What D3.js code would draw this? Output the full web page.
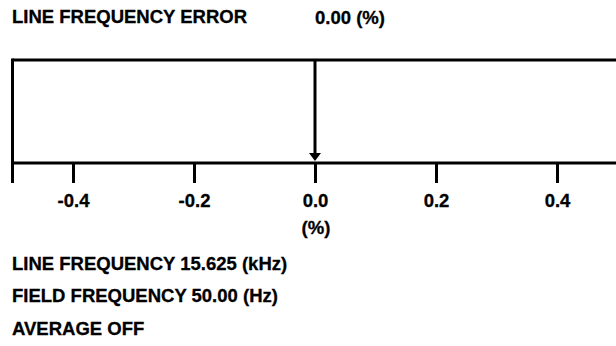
<!DOCTYPE html>
<html>
<head>
<meta charset="utf-8">
<script src="https://cdn.jsdelivr.net/npm/d3@7"></script>
<style>
  html, body { margin: 0; padding: 0; background: #fff; }
  svg { display: block; }
  text { font-family: "Liberation Sans", Arial, sans-serif; font-weight: bold; fill: #000; stroke: #000; stroke-width: 0.3px; }
</style>
</head>
<body>
<div id="chart"></div>
<script>
var width = 616, height = 346;

// data
var errorDomain = [-0.5, 0.5];
var tickValues = [-0.4, -0.2, 0.0, 0.2, 0.4];
var errorValue = [0.00];
var titleLabel = ["LINE FREQUENCY ERROR", "0.00 (%)"];
var unitLabel = ["(%)"];
var infoLines = ["LINE FREQUENCY 15.625 (kHz)", "FIELD FREQUENCY 50.00 (Hz)", "AVERAGE OFF"];

var fontSize = 18.5;
var boxTop = 60, boxBottom = 163, tickLen = 20;

var svg = d3.select("#chart").append("svg")
    .attr("width", width)
    .attr("height", height);

var x = d3.scaleLinear().domain(errorDomain).range([12.5, 617.5]);

// title row
svg.append("text")
    .attr("x", 12)
    .attr("y", 23)
    .style("font-size", fontSize + "px")
    .text(titleLabel[0]);

svg.append("text")
    .attr("x", 315)
    .attr("y", 24)
    .style("font-size", fontSize + "px")
    .text(titleLabel[1]);

// box: top line + left border
svg.append("line")
    .attr("x1", x(errorDomain[0])).attr("x2", width)
    .attr("y1", boxTop).attr("y2", boxTop)
    .style("stroke", "#000").style("stroke-width", 3);

svg.append("line")
    .attr("x1", x(errorDomain[0])).attr("x2", x(errorDomain[0]))
    .attr("y1", boxTop - 1.5).attr("y2", boxBottom + tickLen)
    .style("stroke", "#000").style("stroke-width", 3);

// axis
var axis = d3.axisBottom(x)
    .tickValues(tickValues)
    .tickSize(tickLen)
    .tickSizeOuter(0)
    .tickFormat(d3.format(".1f"));

var gAxis = svg.append("g")
    .attr("transform", "translate(0," + boxBottom + ")")
    .call(axis);

gAxis.select(".domain")
    .attr("d", "M" + x(errorDomain[0]) + ",0H" + width)
    .style("stroke", "#000").style("stroke-width", 3);
gAxis.selectAll(".tick line")
    .style("stroke", "#000").style("stroke-width", 3);
gAxis.selectAll(".tick text")
    .attr("y", null).attr("dy", null)
    .attr("transform", "translate(0,44)")
    .style("font-size", fontSize + "px")
    .style("font-family", "Liberation Sans, Arial, sans-serif")
    .style("font-weight", "bold")
    .style("fill", "#000")
    .text(function(d) { return d3.format(".1f")(d).replace("−", "-"); });

// unit label
svg.append("text")
    .attr("x", x(0) + 1)
    .attr("y", 234)
    .attr("text-anchor", "middle")
    .style("font-size", fontSize + "px")
    .text(unitLabel[0]);

// pointer arrow
svg.selectAll(".pointer")
    .data(errorValue)
    .enter()
    .append("line")
    .attr("class", "pointer")
    .attr("x1", function(d) { return x(d); })
    .attr("x2", function(d) { return x(d); })
    .attr("y1", boxTop)
    .attr("y2", boxBottom - 6)
    .style("stroke", "#000").style("stroke-width", 3);

svg.selectAll(".pointer-head")
    .data(errorValue)
    .enter()
    .append("path")
    .attr("class", "pointer-head")
    .attr("d", function(d) {
        var cx = x(d);
        return "M" + (cx - 6) + "," + (boxBottom - 10) + "L" + (cx + 6) + "," + (boxBottom - 10) + "L" + cx + "," + (boxBottom - 2) + "Z";
    })
    .style("fill", "#000");

// info lines
svg.selectAll(".info")
    .data(infoLines)
    .enter()
    .append("text")
    .attr("class", "info")
    .attr("x", 12)
    .attr("y", function(d, i) { return [270, 302, 335][i]; })
    .style("font-size", fontSize + "px")
    .text(function(d) { return d; });
</script>
</body>
</html>
